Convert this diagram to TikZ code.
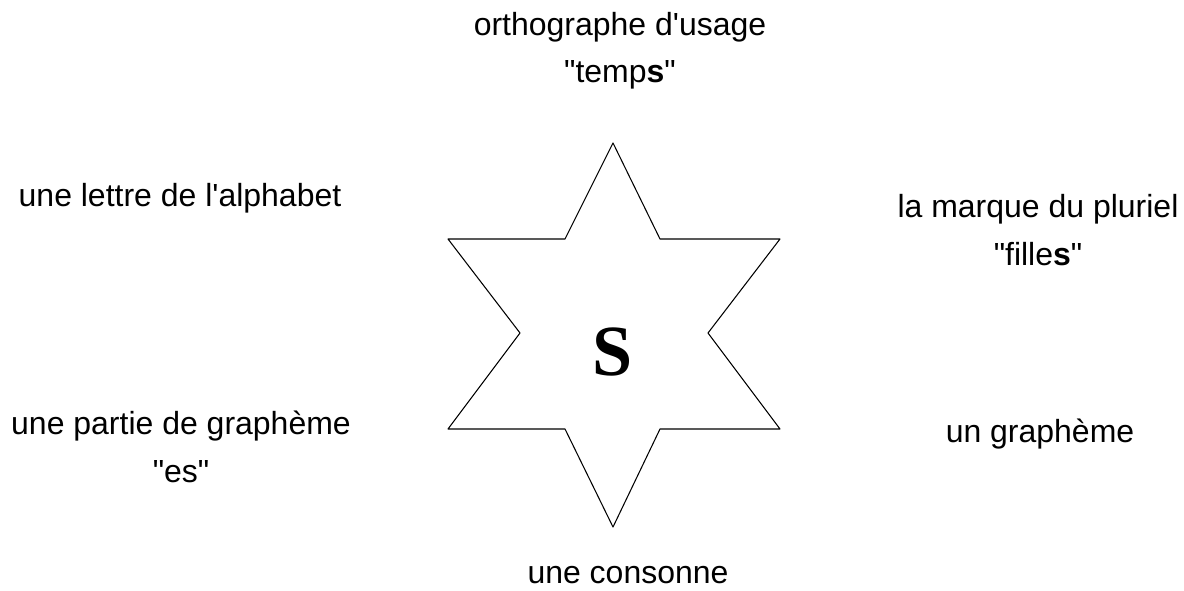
\documentclass[tikz,border=0pt]{standalone}
\usepackage{fontspec}
\usepackage{tkz-euclide}
\newfontfamily\LabelFont{Liberation Sans}
\newfontfamily\LetterFont{Liberation Serif}
\tikzset{
  lbl/.style={font=\LabelFont\fontsize{18.2}{27.3}\selectfont,align=center,inner sep=0pt,anchor=base},
  letter/.style={font=\LetterFont\bfseries\fontsize{41}{41}\selectfont,inner sep=0pt}
}

\begin{document}
\begin{tikzpicture}
\useasboundingbox (0,0) rectangle (23.68,11.80);
\tkzSetUpLine[line width=0.6pt,color=black]

% outer tips and inner corners of the star
\tkzDefPoints{12.26/8.94/T,13.20/7.02/Ia,15.60/7.02/RU,14.16/5.14/Ib,15.60/3.22/RL,13.20/3.22/Ic}
\tkzDefPoints{12.26/1.26/Bo,11.30/3.22/Id,8.96/3.22/LL,10.40/5.14/Ie,8.96/7.02/LU,11.30/7.02/If}

\tkzDrawPolygon(T,Ia,RU,Ib,RL,Ic,Bo,Id,LL,Ie,LU,If)

\node[letter] (S) at (12.26,4.76) {S};

% two-line labels sit on the baseline of their last line
\node[lbl] (usage) at (12.40,10.14) {orthographe d'usage\\"temp\textbf{s}"};
\node[lbl] (lettre) at (3.60,7.66) {une lettre de l'alphabet};
\node[lbl] (pluriel) at (20.76,6.50) {la marque du pluriel\\"fille\textbf{s}"};
\node[lbl] (partie) at (3.62,2.16) {une partie de graphème\\"es"};
\node[lbl] (grapheme) at (20.80,2.96) {un graphème};
\node[lbl] (consonne) at (12.56,0.14) {une consonne};

\end{tikzpicture}
\end{document}
